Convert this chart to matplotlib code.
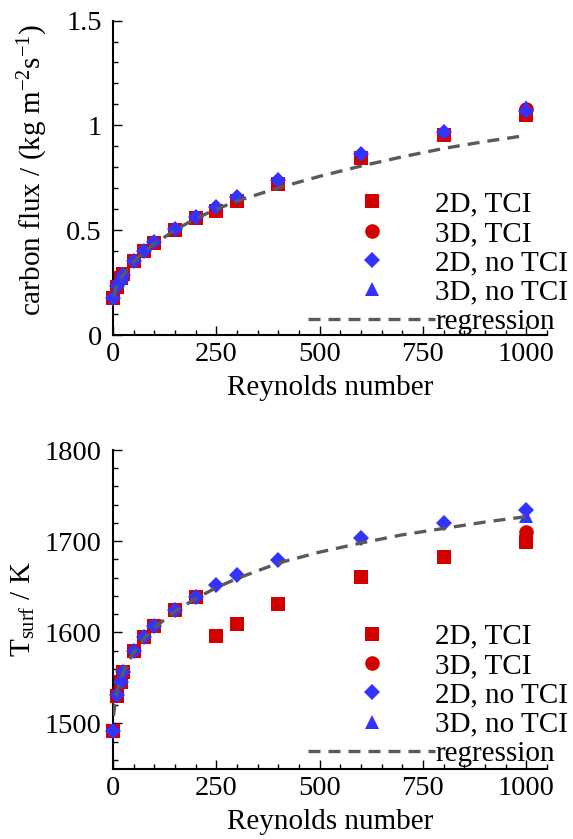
import numpy as np
import matplotlib
matplotlib.use("Agg")
import matplotlib.pyplot as plt
from matplotlib.lines import Line2D
from matplotlib.ticker import MultipleLocator

plt.rcParams['font.family'] = ['Liberation Serif', 'DejaVu Serif']
plt.rcParams['mathtext.fontset'] = 'custom'
plt.rcParams['mathtext.rm'] = 'Liberation Serif'
plt.rcParams['mathtext.it'] = 'Liberation Serif:italic'

# Reynolds numbers of the 2D runs, 3D runs only at Re = 1000
re = [1, 10, 20, 25, 50, 75, 100, 150, 200, 250, 300, 400, 600, 800, 1000]
re_3d = [1000]

# carbon flux (kg m^-2 s^-1)
flux_2d_tci = [0.175, 0.230, 0.272, 0.290, 0.355, 0.400, 0.440, 0.502, 0.558,
               0.593, 0.641, 0.719, 0.846, 0.954, 1.049]
flux_2d_notci = [0.175, 0.233, 0.259, 0.286, 0.354, 0.399, 0.443, 0.504, 0.561,
                 0.612, 0.657, 0.739, 0.863, 0.969, 1.070]
flux_3d_tci = [1.076]
flux_3d_notci = [1.089]

# surface temperature (K)
temp_2d_tci = [1492, 1530, 1545, 1557, 1580, 1595, 1607, 1624, 1639,
               1596, 1609, 1631, 1661, 1683, 1699]
temp_2d_notci = [1492, 1531, 1546, 1557, 1580, 1595, 1607, 1624, 1639,
                 1652, 1663, 1679, 1703, 1720, 1734]
temp_3d_tci = [1710]
temp_3d_notci = [1728]

# regression curves
reg_re = [1, 5, 10, 20, 30, 50, 75, 100, 150, 200, 250, 300, 400, 500, 600, 700, 800, 900, 1000]
reg_flux = [0.18, 0.215, 0.24, 0.275, 0.30, 0.35, 0.395, 0.435, 0.50, 0.556, 0.60,
            0.639, 0.702, 0.757, 0.806, 0.850, 0.890, 0.923, 0.952]
reg_temp = [1508, 1522, 1535, 1550, 1561, 1578, 1593, 1605, 1623, 1637, 1649,
            1659, 1676, 1688, 1698, 1707, 1714, 1721, 1727]

xticks = [0, 250, 500, 750, 1000]
flux_ticks = [0, 0.5, 1, 1.5]
flux_ticklabels = ['0', '0.5', '1', '1.5']
temp_ticks = [1500, 1600, 1700, 1800]

labels = ['2D, TCI', '3D, TCI', '2D, no TCI', '3D, no TCI', 'regression']

red = '#d40000'
blue = '#3333ff'
grey = '#5a5a5a'
lw_reg = 2.4
dash = (3.6, 2.4)
ms_sq, ms_ci, ms_di, ms_tr = 9.5, 10.5, 8.6, 10.0

fig = plt.figure(figsize=(5.73, 8.39), dpi=100)
ax1 = fig.add_axes([0.1972, 0.6007, 0.7574, 0.3748])
ax2 = fig.add_axes([0.1972, 0.0834, 0.7574, 0.3802])


def draw(ax, y2t, y3t, y2n, y3n, yreg):
    ax.plot(re, y2t, ls='none', marker='s', ms=ms_sq, color=red, mew=0, clip_on=False, zorder=3)
    ax.plot(re_3d, y3t, ls='none', marker='o', ms=ms_ci, color=red, mew=0, clip_on=False, zorder=3)
    ax.plot(re, y2n, ls='none', marker='D', ms=ms_di, color=blue, mew=0, clip_on=False, zorder=4)
    ax.plot(re_3d, y3n, ls='none', marker='^', ms=ms_tr, color=blue, mew=0, clip_on=False, zorder=4)
    ax.plot(reg_re, yreg, ls='--', dashes=dash, lw=lw_reg, color=grey, zorder=5)

    ax.set_xlim(0, 1050)
    ax.set_xticks(xticks)
    ax.xaxis.set_minor_locator(MultipleLocator(50))
    ax.spines['top'].set_visible(False)
    ax.spines['right'].set_visible(False)
    for s in ['left', 'bottom']:
        ax.spines[s].set_linewidth(1.5)
    ax.tick_params(which='both', direction='in', labelsize=20.5, width=1)
    ax.tick_params(which='major', length=6.5)
    ax.tick_params(which='minor', length=3.5)
    ax.tick_params(axis='x', pad=5)
    ax.tick_params(axis='y', pad=8)
    ax.set_xlabel('Reynolds number', fontsize=21, labelpad=6)

    handles = [
        Line2D([], [], ls='none', marker='s', ms=ms_sq, color=red, mew=0),
        Line2D([], [], ls='none', marker='o', ms=ms_ci, color=red, mew=0),
        Line2D([], [], ls='none', marker='D', ms=ms_di, color=blue, mew=0),
        Line2D([], [], ls='none', marker='^', ms=ms_tr, color=blue, mew=0),
        Line2D([], [], ls='--', dashes=dash, lw=lw_reg, color=grey),
    ]
    return handles


h = draw(ax1, flux_2d_tci, flux_3d_tci, flux_2d_notci, flux_3d_notci, reg_flux)
ax1.set_ylim(0, 1.5)
ax1.set_yticks(flux_ticks)
ax1.set_yticklabels(flux_ticklabels)
ax1.yaxis.set_minor_locator(MultipleLocator(0.1))
ax1.set_ylabel(r'carbon flux / (kg m$^{-2}$s$^{-1}$)', fontsize=21)
ax1.yaxis.set_label_coords(-0.145, 0.525)
ax1.legend(h, labels, loc='lower left', bbox_to_anchor=(0.4486, 0.0), frameon=False,
           fontsize=21, handlelength=4.38, handletextpad=0.0, labelspacing=0.1,
           borderpad=0, borderaxespad=0, numpoints=1)

h = draw(ax2, temp_2d_tci, temp_3d_tci, temp_2d_notci, temp_3d_notci, reg_temp)
ax2.set_ylim(1450, 1800)
ax2.set_yticks(temp_ticks)
ax2.yaxis.set_minor_locator(MultipleLocator(20))
ax2.set_ylabel(r'T$_{\mathrm{surf}}$ / K', fontsize=21)
ax2.yaxis.set_label_coords(-0.175, 0.5)
ax2.legend(h, labels, loc='lower left', bbox_to_anchor=(0.4486, 0.006), frameon=False,
           fontsize=21, handlelength=4.38, handletextpad=0.0, labelspacing=0.1,
           borderpad=0, borderaxespad=0, numpoints=1)

fig.savefig('out.png', dpi=100)
